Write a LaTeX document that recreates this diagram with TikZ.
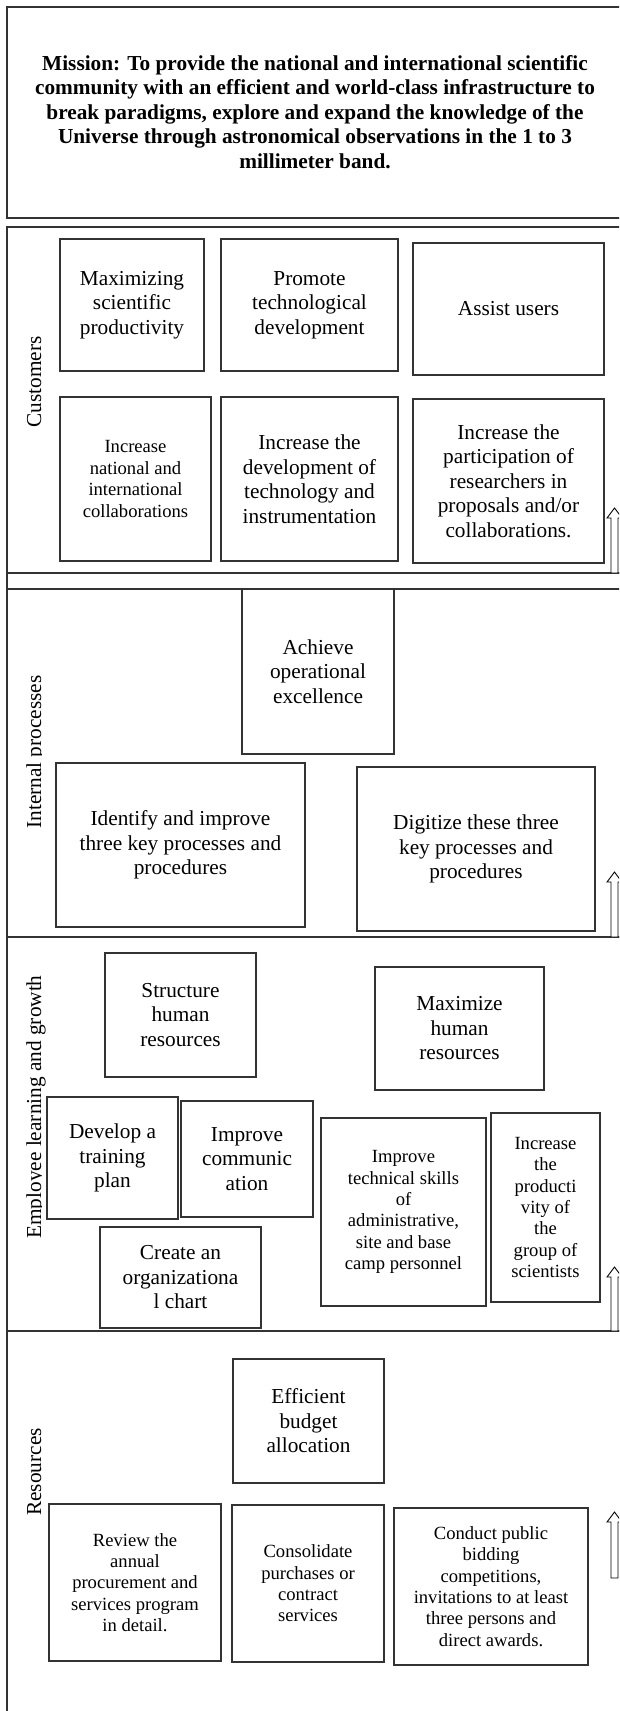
\documentclass[tikz,border=0pt]{standalone}
\usepackage{fontspec}
\setmainfont{Liberation Serif}
\begin{document}
\begin{tikzpicture}[x=1pt,y=-1pt,
  frame/.style={draw=black!80, line width=1.1pt},
  box/.style={draw=black!80, line width=1.1pt, inner sep=0pt, align=center, font=\fontsize{21.3}{24.5}\selectfont},
  smalltxt/.style={font=\fontsize{18.6}{21.4}\selectfont},
  lbl/.style={rotate=90, anchor=base, inner sep=0pt, font=\fontsize{21.3}{24.5}\selectfont},
  barrow/.style={draw=black, line width=0.9pt, fill=white},
  mission/.style={inner sep=0pt, align=center, font=\fontsize{21.3}{24.5}\selectfont\bfseries}]
\useasboundingbox (0,0) rectangle (619,1711);
\clip (0,0) rectangle (619,1711);
\newcommand{\blockarrow}[2]{%
  \draw[barrow] (614.5,#1) -- ++(7.5,10) -- ++(-4,0) -- ++(0,{#2-#1-10}) -- ++(-7,0) -- ++(0,{-(#2-#1-10)}) -- ++(-4,0) -- cycle;}

% section frames
\draw[frame] (7,7) rectangle (700,218);
\draw[frame] (7,227) rectangle (700,573);
\draw[frame] (7,573) rectangle (700,937);
\draw[frame] (7,589) -- (700,589);
\draw[frame] (7,937) rectangle (700,1331);
\draw[frame] (7,1331) rectangle (700,1800);

% mission
\node[mission] (mis) at (315,112) {Mission: To provide the national and international scientific\\community with an efficient and world-class infrastructure to\\break paradigms, explore and expand the knowledge of the\\Universe through astronomical observations in the 1 to 3\\millimeter band.};

% labels
\node[lbl] (lcus) at (41,382) {Customers};
\begin{scope}
  \clip (0,600) rectangle (41.2,930);
  \node[lbl] (lint) at (41,752) {Internal processes};
\end{scope}
\begin{scope}
  \clip (0,940) rectangle (60,1150) (0,1150) rectangle (41.2,1330);
  \node[lbl] (lemp) at (41,1107) {Employee learning and growth};
\end{scope}
\node[lbl] (lres) at (41,1472) {Resources};

% customers
\node[box, minimum width=144, minimum height=132] (c1) at (132,305) {Maximizing\\scientific\\productivity};
\node[box, minimum width=177, minimum height=132] (c2) at (309.5,305) {Promote\\technological\\development};
\node[box, minimum width=191, minimum height=132] (c3) at (508.5,309) {Assist users};
\node[box, smalltxt, minimum width=151, minimum height=164] (c4) at (135.5,479) {Increase\\national and\\international\\collaborations};
\node[box, minimum width=177, minimum height=164] (c5) at (309.5,479) {Increase the\\development of\\technology and\\instrumentation};
\node[box, minimum width=191, minimum height=164] (c6) at (508.5,481) {Increase the\\participation of\\researchers in\\proposals and/or\\collaborations.};
\blockarrow{508}{573}

% internal processes
\node[box, minimum width=152, minimum height=165] (i1) at (318,671.5) {Achieve\\operational\\excellence};
\node[box, minimum width=249, minimum height=164] (i2) at (180.5,845) {Identify and improve\\three key processes and\\procedures};
\node[box, minimum width=238, minimum height=164] (i3) at (476,849) {Digitize these three\\key processes and\\procedures};
\blockarrow{872}{937}

% employee learning and growth
\node[box, minimum width=151, minimum height=124] (e1) at (180.5,1015) {Structure\\human\\resources};
\node[box, minimum width=169, minimum height=123] (e2) at (459.5,1028.5) {Maximize\\human\\resources};
\node[box, minimum width=131, minimum height=122] (e3) at (112.5,1158) {Develop a\\training\\plan};
\node[box, minimum width=132, minimum height=116] (e4) at (247,1159) {Improve\\communic\\ation};
\node[box, minimum width=161, minimum height=101] (e5) at (180.5,1277.5) {Create an\\organizationa\\l chart};
\node[box, smalltxt, minimum width=165, minimum height=188] (e6) at (403.5,1212) {Improve\\technical skills\\of\\administrative,\\site and base\\camp personnel};
\node[box, smalltxt, minimum width=109, minimum height=189] (e7) at (545.5,1207.5) {Increase\\the\\producti\\vity of\\the\\group of\\scientists};
\blockarrow{1267}{1331}

% resources
\node[box, minimum width=151, minimum height=124] (r1) at (308.5,1421) {Efficient\\budget\\allocation};
\node[box, smalltxt, minimum width=172, minimum height=157] (r2) at (135,1582.5) {Review the\\annual\\procurement and\\services program\\in detail.};
\node[box, smalltxt, minimum width=152, minimum height=157] (r3) at (308,1583.5) {Consolidate\\purchases or\\contract\\services};
\node[box, smalltxt, minimum width=194, minimum height=157] (r4) at (491,1586.5) {Conduct public\\bidding\\competitions,\\invitations to at least\\three persons and\\direct awards.};
\blockarrow{1512}{1578}
\end{tikzpicture}
\end{document}
